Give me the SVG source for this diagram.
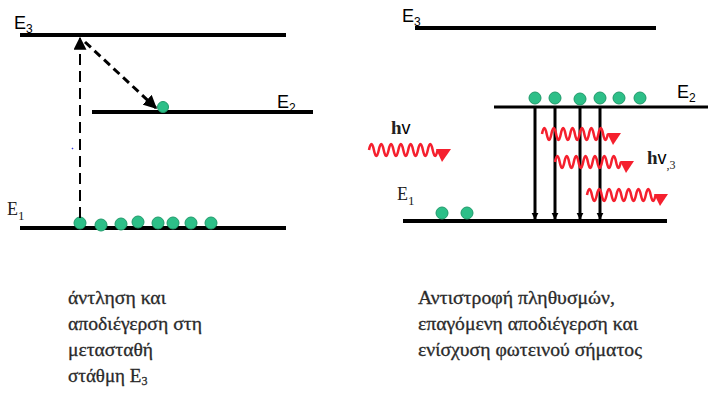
<svg xmlns="http://www.w3.org/2000/svg" width="708" height="396" viewBox="0 0 708 396">
<style>
.lvl{stroke:#000;stroke-width:4;fill:none}
.lvlt{stroke:#000;stroke-width:3;fill:none}
.dot{fill:#2dbf88;stroke:#1f9a6a;stroke-width:1}
.wave{stroke:#f5202e;stroke-width:2.5;fill:none}
.whead{fill:#f5202e}
.lab{font-family:"Liberation Sans",Arial,sans-serif;font-size:18px;fill:#000}
.sub{font-family:"Liberation Sans",Arial,sans-serif;font-size:12px;fill:#000}
.ser{font-family:"Liberation Serif","Times New Roman",serif;fill:#222}
.cap{font-family:"Liberation Serif","Times New Roman",serif;font-size:19px;fill:#2a2a2a;stroke:#2a2a2a;stroke-width:0.3}
</style>
<defs>
<marker id="ah" viewBox="0 0 10 10" refX="9" refY="5" markerWidth="4.5" markerHeight="4.5" orient="auto" markerUnits="strokeWidth">
<path d="M0 0L10 5L0 10z" fill="#000"/>
</marker>
<marker id="ah2" viewBox="0 0 10 10" refX="9" refY="5" markerWidth="7" markerHeight="6.5" orient="auto" markerUnits="strokeWidth">
<path d="M0 0L10 5L0 10z" fill="#000"/>
</marker>
<marker id="av" viewBox="0 0 10 10" refX="9" refY="5" markerWidth="2.4" markerHeight="2.4" orient="auto" markerUnits="strokeWidth">
<path d="M0 0L10 5L0 10z" fill="#000"/>
</marker>
</defs>

<!-- LEFT DIAGRAM -->
<g id="left-E3">
<line class="lvl" x1="20" y1="35" x2="286" y2="35"/>
<text class="lab" x="14" y="29">E<tspan class="sub" dy="4">3</tspan></text>
</g>
<g id="left-E2">
<line class="lvl" x1="92" y1="112" x2="313" y2="112"/>
<text class="lab" x="277" y="108">E<tspan class="sub" dy="4">2</tspan></text>
<circle class="dot" cx="163" cy="107" r="5.5"/>
</g>
<g id="left-E1">
<line class="lvl" x1="20" y1="228" x2="286" y2="228"/>
<text class="ser" x="7" y="215" font-size="18">E<tspan font-size="13" dy="5">1</tspan></text>
<circle class="dot" cx="80" cy="223" r="6"/>
<circle class="dot" cx="101" cy="225" r="6"/>
<circle class="dot" cx="121" cy="224" r="6"/>
<circle class="dot" cx="138" cy="222" r="6"/>
<circle class="dot" cx="158" cy="223" r="6"/>
<circle class="dot" cx="173" cy="223" r="6"/>
<circle class="dot" cx="191" cy="223" r="6"/>
<circle class="dot" cx="211" cy="223" r="6"/>
</g>
<g id="left-connectors">
<line x1="80" y1="218" x2="80" y2="38" stroke="#000" stroke-width="2" stroke-dasharray="11 6" marker-end="url(#ah2)"/>
<line x1="85" y1="42" x2="156" y2="108" stroke="#000" stroke-width="3" stroke-dasharray="8 5" marker-end="url(#ah)"/>
<line x1="72" y1="148" x2="73" y2="149" stroke="#3a3ad8" stroke-width="1.5"/>
</g>

<!-- RIGHT DIAGRAM -->
<g id="right-E3">
<line class="lvl" x1="415" y1="28" x2="656" y2="28"/>
<text class="lab" x="402" y="22">E<tspan class="sub" dy="4">3</tspan></text>
</g>
<g id="right-E2">
<line class="lvlt" x1="494" y1="107" x2="708" y2="107"/>
<text class="lab" x="677" y="98">E<tspan class="sub" dy="4">2</tspan></text>
<circle class="dot" cx="535" cy="98" r="6"/>
<circle class="dot" cx="555" cy="98" r="6"/>
<circle class="dot" cx="580" cy="99" r="6"/>
<circle class="dot" cx="600" cy="98" r="6"/>
<circle class="dot" cx="619" cy="98" r="6"/>
<circle class="dot" cx="640" cy="98" r="6"/>
</g>
<g id="right-E1">
<line class="lvl" x1="403" y1="221" x2="667" y2="221"/>
<text class="ser" x="397" y="200" font-size="18">E<tspan font-size="13" dy="5">1</tspan></text>
<circle class="dot" cx="442" cy="213" r="6"/>
<circle class="dot" cx="467" cy="213" r="6"/>
</g>
<g id="right-connectors">
<line x1="535" y1="107" x2="535" y2="219" stroke="#000" stroke-width="3" marker-end="url(#av)"/>
<line x1="555" y1="107" x2="555" y2="219" stroke="#000" stroke-width="3" marker-end="url(#av)"/>
<line x1="580" y1="107" x2="580" y2="219" stroke="#000" stroke-width="3" marker-end="url(#av)"/>
<line x1="600" y1="107" x2="600" y2="219" stroke="#000" stroke-width="3" marker-end="url(#av)"/>
</g>
<g id="photon-in">
<path class="wave" d="M369 150q2.45 -12 4.9 0t4.9 0t4.9 0t4.9 0t4.9 0t4.9 0t4.9 0t4.9 0t4.9 0t4.9 0t4.9 0t4.9 0t4.9 0t4.9 0"/>
<polygon class="whead" points="436,149 451,149 442,162"/>
<text x="391" y="134"><tspan class="ser" font-size="19" font-weight="bold">h</tspan><tspan class="lab" font-size="19">v</tspan></text>
</g>
<g id="photon-out">
<path class="wave" d="M542 134q2.35 -12 4.7 0t4.7 0t4.7 0t4.7 0t4.7 0t4.7 0t4.7 0t4.7 0t4.7 0t4.7 0t4.7 0t4.7 0t4.7 0t4.7 0"/>
<polygon class="whead" points="607,133 621,133 613,145"/>
<path class="wave" d="M555 162q2.35 -12 4.7 0t4.7 0t4.7 0t4.7 0t4.7 0t4.7 0t4.7 0t4.7 0t4.7 0t4.7 0t4.7 0t4.7 0t4.7 0t4.7 0"/>
<polygon class="whead" points="620,161 634,161 626,173"/>
<path class="wave" d="M587 195q2.45 -12 4.9 0t4.9 0t4.9 0t4.9 0t4.9 0t4.9 0t4.9 0t4.9 0t4.9 0t4.9 0t4.9 0t4.9 0t4.9 0t4.9 0"/>
<polygon class="whead" points="654,194 668,194 660,206"/>
<text x="647" y="164"><tspan class="ser" font-size="19" font-weight="bold">h</tspan><tspan class="lab" font-size="19">v</tspan><tspan class="ser" font-size="12" dy="5">,3</tspan></text>
</g>

<!-- CAPTIONS -->
<g id="caption-left">
<text class="cap" x="68" y="304" textLength="98" lengthAdjust="spacingAndGlyphs">άντληση και</text>
<text class="cap" x="68" y="330" textLength="134" lengthAdjust="spacingAndGlyphs">αποδιέγερση στη</text>
<text class="cap" x="68" y="356" textLength="85" lengthAdjust="spacingAndGlyphs">μετασταθή</text>
<text class="cap" x="68" y="382">στάθμη E<tspan font-size="12" dy="3">3</tspan></text>
</g>
<g id="caption-right">
<text class="cap" x="418" y="304" textLength="197" lengthAdjust="spacingAndGlyphs">Αντιστροφή πληθυσμών,</text>
<text class="cap" x="418" y="330" textLength="220" lengthAdjust="spacingAndGlyphs">επαγόμενη αποδιέγερση και</text>
<text class="cap" x="418" y="356" textLength="224" lengthAdjust="spacingAndGlyphs">ενίσχυση φωτεινού σήματος</text>
</g>
</svg>
